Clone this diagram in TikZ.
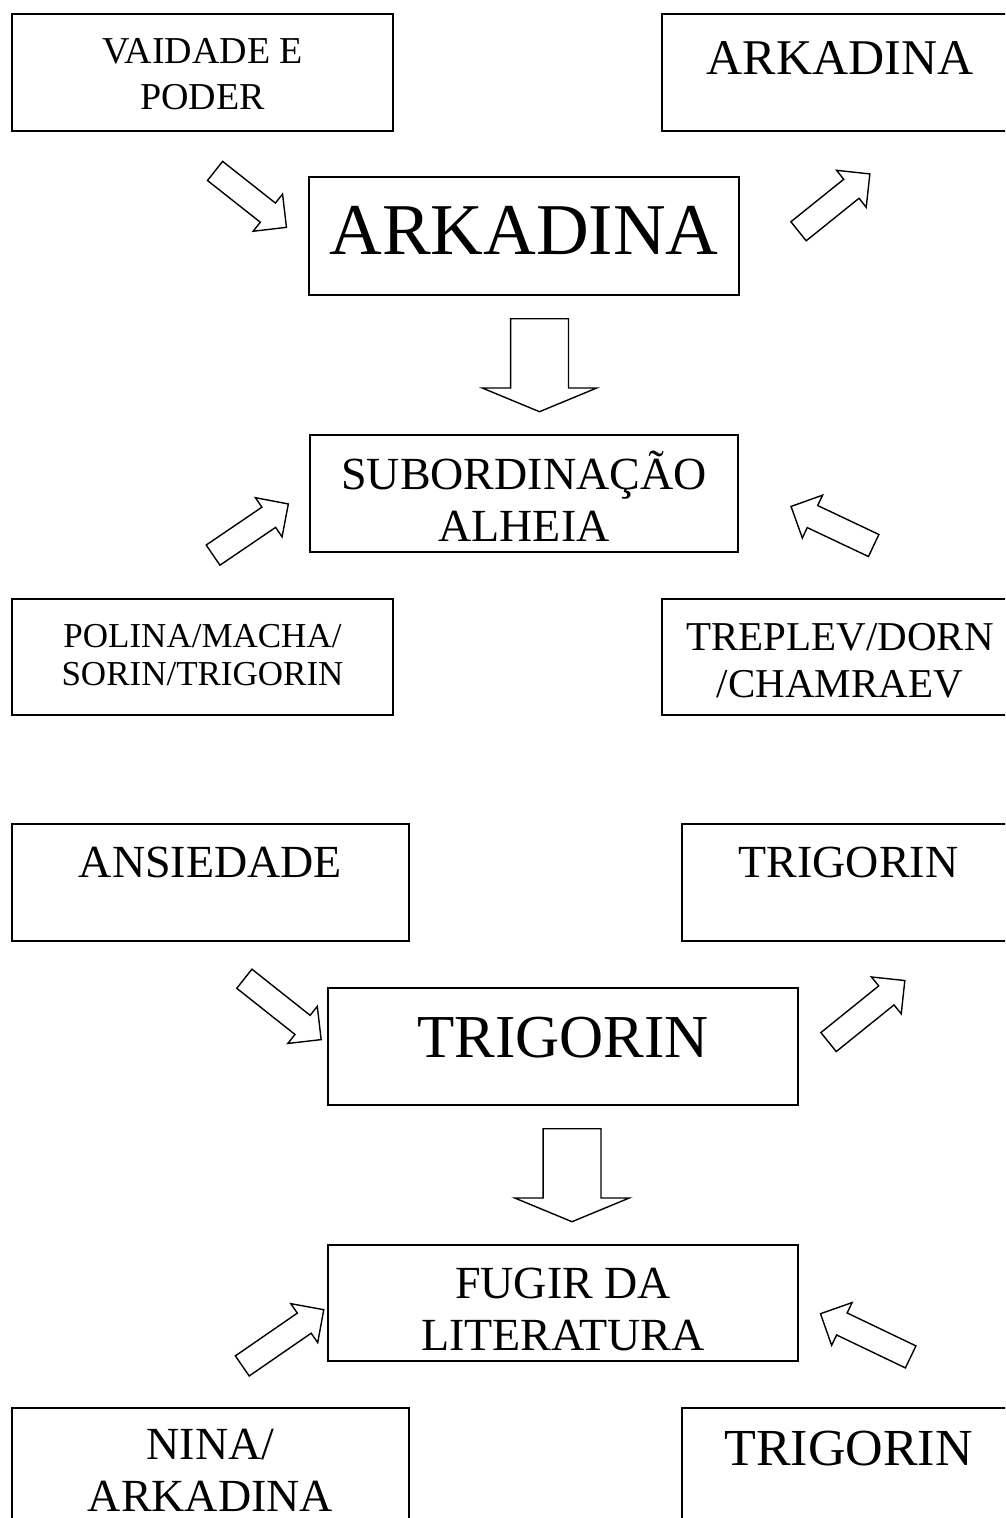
\documentclass[tikz,border=0pt]{standalone}
\usepackage{fontspec}
\setmainfont{Liberation Serif}
\usetikzlibrary{positioning, shapes.arrows}
\newcommand{\boxfont}[2]{\fontsize{#1pt}{#2pt}\selectfont}

\begin{document}
\begin{tikzpicture}[
    x=1pt, y=-1pt,
    box/.style 2 args={draw, line width=1.3pt, inner sep=0pt, minimum width=#1, minimum height=#2},
    txt/.style={inner sep=0pt, align=center},
    blockarrow/.style={draw, line width=1.4pt, single arrow, inner xsep=0pt, inner ysep=11.5pt, anchor=tail,
        single arrow head extend=11.5pt, minimum height=#1},
    downarrow/.style={draw, line width=1.4pt, single arrow, inner xsep=0pt, inner ysep=28.25pt, anchor=tail, rotate=-90,
        single arrow head extend=28.25pt, single arrow tip angle=135, minimum height=93pt}
]
    \clip (0,0) rectangle (1005,1518);
    \useasboundingbox (0,0) rectangle (1005,1518);

    % Upper diagram: boxes
    \node[box={381}{117}] (vaidade) at (202.5,72.5) {};
    \node[box={356}{117}] (arkright) at (840,72.5) {};
    \node[box={430}{118}] (arkmain) at (524,236) {};
    \node[box={428}{117}] (subord) at (524,493.5) {};
    \node[box={381}{116}] (polina) at (202.5,657) {};
    \node[box={356}{116}] (treplev) at (840,657) {};

    % Upper diagram: texts
    \node[txt, font=\boxfont{38}{46}, below=25pt of vaidade.north] (vaidadetxt) {VAIDADE E\\PODER};
    \node[txt, font=\boxfont{50}{57}, below=28pt of arkright.north] (arkrighttxt) {ARKADINA};
    \node[txt, font=\boxfont{73}{84}, below=30pt of arkmain.north] (arkmaintxt) {ARKADINA};
    \node[txt, font=\boxfont{46}{52}, below=16pt of subord.north] (subordtxt) {SUBORDINAÇÃO\\ALHEIA};
    \node[txt, font=\boxfont{35}{38}, below=26pt of polina.north] (polinatxt) {POLINA/MACHA/\\SORIN/TRIGORIN};
    \node[txt, font=\boxfont{41}{47}, below=25pt of treplev.north] (trepletxt) {TREPLEV/DORN\\/CHAMRAEV};

    % Upper diagram: block arrows
    \node[blockarrow=91pt, rotate=-38.3] (vaidadearrow) at (214.5,170.5) {};
    \node[blockarrow=91.5pt, rotate=38.8] (arkrightarrow) at (798,231.7) {};
    \node[downarrow] (arkdown) at (539.5,318) {};
    \node[blockarrow=91pt, rotate=34.2] (polinaarrow) at (212.5,555.5) {};
    \node[blockarrow=91.4pt, rotate=154.7] (treplevarrow) at (874.3,545.8) {};

    % Lower diagram: boxes
    \node[box={397}{117}] (ansiedade) at (210.5,882.5) {};
    \node[box={333}{117}] (trigright) at (848.5,882.5) {};
    \node[box={470}{117}] (trigmain) at (563,1046.5) {};
    \node[box={470}{116}] (fugir) at (563,1303) {};
    \node[box={397}{117}] (nina) at (210.5,1466.5) {};
    \node[box={333}{117}] (trigbottom) at (848.5,1466.5) {};

    % Lower diagram: texts
    \node[txt, font=\boxfont{46}{53}, below=23pt of ansiedade.north] (ansiedadetxt) {ANSIEDADE};
    \node[txt, font=\boxfont{46}{53}, below=23pt of trigright.north] (trigrighttxt) {TRIGORIN};
    \node[txt, font=\boxfont{61}{70}, below=30pt of trigmain.north] (trigmaintxt) {TRIGORIN};
    \node[txt, font=\boxfont{46}{52}, below=23pt of fugir.north] (fugirtxt) {FUGIR DA\\LITERATURA};
    \node[txt, font=\boxfont{46}{52}, below=22pt of nina.north] (ninatxt) {NINA/\\ARKADINA};
    \node[txt, font=\boxfont{52}{60}, below=24pt of trigbottom.north] (trigbottomtxt) {TRIGORIN};

    % Lower diagram: block arrows
    \node[blockarrow=98pt, rotate=-38.4] (ansiedadearrow) at (243.8,978.3) {};
    \node[blockarrow=98pt, rotate=38.9] (trigrightarrow) at (828,1042.5) {};
    \node[downarrow] (trigdown) at (572,1128) {};
    \node[blockarrow=99pt, rotate=34.6] (ninaarrow) at (241.7,1366.3) {};
    \node[blockarrow=100pt, rotate=154.4] (trigbottomarrow) at (911.3,1357.2) {};
\end{tikzpicture}
\end{document}
